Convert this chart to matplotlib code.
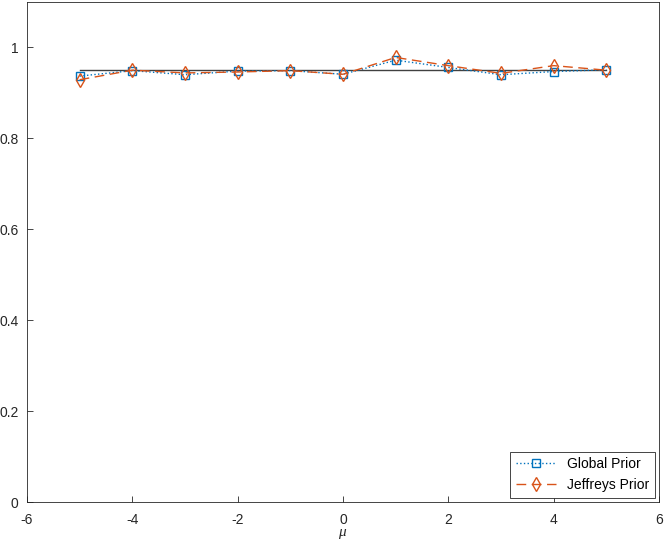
import matplotlib.pyplot as plt

# Значення mu
mu = [-5, -4, -3, -2, -1, 0, 1, 2, 3, 4, 5]

# Покриття для двох апріорних розподілів
global_prior = [0.937, 0.949, 0.940, 0.948, 0.949, 0.941, 0.972, 0.956, 0.940, 0.947, 0.951]
jeffreys_prior = [0.929, 0.950, 0.944, 0.946, 0.949, 0.941, 0.978, 0.960, 0.943, 0.960, 0.950]

# Номінальний рівень
nominal = 0.95

plt.rcParams['font.family'] = ['Liberation Sans', 'DejaVu Sans']
plt.rcParams['axes.unicode_minus'] = False
plt.rcParams['mathtext.fontset'] = 'custom'
plt.rcParams['mathtext.it'] = 'Liberation Serif:italic'

fig = plt.figure(figsize=(6.64, 5.48), dpi=100)
ax = fig.add_axes([27 / 664, 1 - 502 / 548, 632 / 664, 500 / 548])

ax.plot([mu[0], mu[-1]], [nominal, nominal], color='#404040', linewidth=1.0)
ax.plot(mu, global_prior, ':s', color='#0072BD', markerfacecolor='none',
        markersize=6, linewidth=1.0, label='Global Prior')
ax.plot(mu, jeffreys_prior, '--d', color='#D95319', markerfacecolor='none',
        markersize=7, linewidth=1.0, dashes=(7, 4), label='Jeffreys Prior')

ax.set_xlim(-6, 6)
ax.set_ylim(0, 1.1)
ax.set_xticks([-6, -4, -2, 0, 2, 4, 6])
ax.set_yticks([0, 0.2, 0.4, 0.6, 0.8, 1])
ax.set_yticklabels(['0', '0.2', '0.4', '0.6', '0.8', '1'])
ax.tick_params(direction='in', length=4, width=0.6, colors='#262626', labelsize=10)
ax.tick_params(axis='x', pad=8)
ax.tick_params(axis='y', pad=6)
for sp in ax.spines.values():
    sp.set_color('#262626')
    sp.set_linewidth(0.6)

ax.set_xlabel(r'$\mu$', fontsize=11, color='#262626', labelpad=0)

leg = ax.legend(loc='lower right', fontsize=10, handlelength=2.9, fancybox=False,
                framealpha=1, borderaxespad=0.3, edgecolor='#262626')
leg.get_frame().set_linewidth(0.6)

plt.savefig('out.png', dpi=100)
